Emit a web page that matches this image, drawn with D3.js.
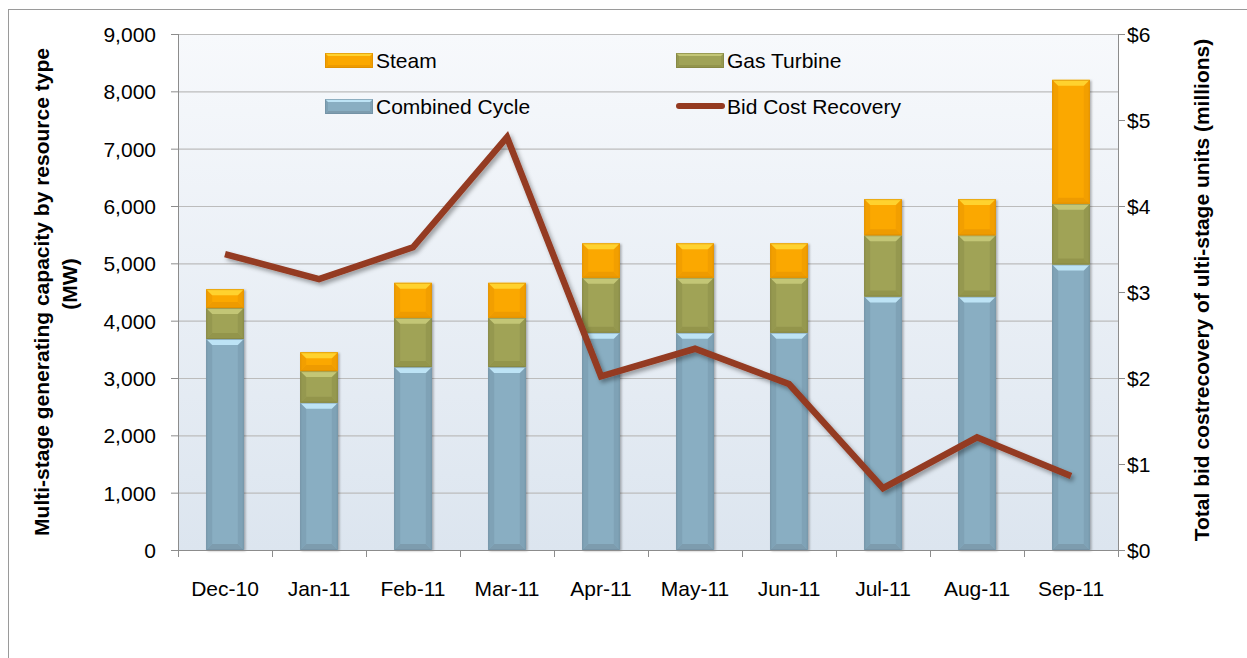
<!DOCTYPE html>
<html><head><meta charset="utf-8">
<script src="https://cdn.jsdelivr.net/npm/d3@7/dist/d3.min.js"></script>
<style>
body{margin:0;background:#fff;}
text{font-family:"Liberation Sans",Arial,sans-serif;fill:#000;}
</style></head>
<body><svg id="c" width="1247" height="658"></svg>
<script>
const categories = ["Dec-10","Jan-11","Feb-11","Mar-11","Apr-11","May-11","Jun-11","Jul-11","Aug-11","Sep-11"];
const combinedCycle = [3680,2570,3190,3190,3790,3790,3790,4420,4420,4980];
const gasTurbine    = [540,550,860,860,960,960,960,1070,1070,1060];
const steam         = [330,330,610,610,600,600,600,630,630,2160];
const bidCostRecovery = [3.44,3.15,3.52,4.80,2.02,2.34,1.93,0.72,1.31,0.86];
const leftTicks = [0,1000,2000,3000,4000,5000,6000,7000,8000,9000];
const rightTicks = [0,1,2,3,4,5,6];

const svg = d3.select("#c");
const L=178, R=1118, T=34, B=550;
const FS = 21;

const defs = svg.append("defs");
const bg = defs.append("linearGradient").attr("id","bg").attr("x1",0).attr("y1",0).attr("x2",0).attr("y2",1);
bg.append("stop").attr("offset","0%").attr("stop-color","#f7f9fc");
bg.append("stop").attr("offset","100%").attr("stop-color","#dce5ef");
const f1 = defs.append("filter").attr("id","sh").attr("x","-10%").attr("y","-10%").attr("width","130%").attr("height","130%");
f1.append("feDropShadow").attr("dx",2.5).attr("dy",3).attr("stdDeviation",2).attr("flood-color","#000").attr("flood-opacity",0.35);
const f2 = defs.append("filter").attr("id","bsh").attr("x","-20%").attr("y","-5%").attr("width","140%").attr("height","115%");
f2.append("feDropShadow").attr("dx",1.5).attr("dy",1).attr("stdDeviation",1.2).attr("flood-color","#000").attr("flood-opacity",0.3);

// frame
svg.append("rect").attr("x",8.5).attr("y",9.5).attr("width",1250).attr("height",700)
  .attr("fill","#fff").attr("stroke","#9a9a9a").attr("stroke-width",1);

const x = d3.scaleBand().domain(categories).range([L,R]).paddingInner(0.6).paddingOuter(0.3);
const xb = d3.scaleBand().domain(categories).range([L,R]);
const y = d3.scaleLinear().domain([0,9000]).range([B,T]);
const y2 = d3.scaleLinear().domain([0,6]).range([B,T]);

svg.append("rect").attr("x",L).attr("y",T).attr("width",R-L).attr("height",B-T).attr("fill","url(#bg)");

// gridlines
svg.append("g").selectAll("line").data(leftTicks.slice(1)).join("line")
  .attr("x1",L).attr("x2",R).attr("y1",d=>y(d)+0.5).attr("y2",d=>y(d)+0.5)
  .attr("stroke","#bcbcbc").attr("stroke-width",1.2);

const series = [
  {name:"Combined Cycle", vals:combinedCycle, base:"#89aec2", top:"#bde3f5", side:"#7fa2b6", bot:"#7d9cae", edge:"#6e8c9e"},
  {name:"Gas Turbine", vals:gasTurbine, base:"#a0a357", top:"#c3c676", side:"#959850", bot:"#93954c", edge:"#7f8140"},
  {name:"Steam", vals:steam, base:"#fba800", top:"#ffd22e", side:"#f29f00", bot:"#ee9b00", edge:"#d98a00"}
];

function bevel(g, x0, y0, w, h, s, bv){
  const b = Math.min(bv, h/2, w/2);
  g.append("rect").attr("x",x0).attr("y",y0).attr("width",w).attr("height",h).attr("fill",s.base);
  const pts = (a)=>a.map(p=>p.join(",")).join(" ");
  g.append("polygon").attr("points",pts([[x0,y0+h],[x0+b,y0+h-b],[x0+w-b,y0+h-b],[x0+w,y0+h]])).attr("fill",s.bot);
  g.append("polygon").attr("points",pts([[x0,y0],[x0+b,y0+b],[x0+b,y0+h-b],[x0,y0+h]])).attr("fill",s.side);
  g.append("polygon").attr("points",pts([[x0+w,y0],[x0+w-b,y0+b],[x0+w-b,y0+h-b],[x0+w,y0+h]])).attr("fill",s.side);
  g.append("polygon").attr("points",pts([[x0,y0],[x0+w,y0],[x0+w-b,y0+b],[x0+b,y0+b]])).attr("fill",s.top);
  g.append("rect").attr("x",x0+0.5).attr("y",y0+0.5).attr("width",Math.max(0,w-1)).attr("height",Math.max(0,h-1))
    .attr("fill","none").attr("stroke",s.edge).attr("stroke-width",1).attr("stroke-opacity",0.6);
}

const bars = svg.append("g").attr("filter","url(#bsh)");
categories.forEach((c,i)=>{
  let acc = 0;
  series.forEach(s=>{
    const v = s.vals[i];
    const y0 = y(acc+v), y1 = y(acc);
    const g = bars.append("g");
    bevel(g, x(c), y0, x.bandwidth(), y1-y0, s, 6);
    acc += v;
  });
});

// axes lines
const axc = "#8c8c8c";
svg.append("line").attr("x1",L+0.5).attr("x2",L+0.5).attr("y1",T).attr("y2",B).attr("stroke",axc);
svg.append("line").attr("x1",R+0.5).attr("x2",R+0.5).attr("y1",T).attr("y2",B).attr("stroke",axc);
svg.append("line").attr("x1",L).attr("x2",R).attr("y1",B+0.5).attr("y2",B+0.5).attr("stroke",axc);
// left ticks
svg.append("g").selectAll("line").data(leftTicks).join("line")
  .attr("x1",L-7).attr("x2",L).attr("y1",d=>y(d)+0.5).attr("y2",d=>y(d)+0.5).attr("stroke",axc);
svg.append("g").selectAll("text").data(leftTicks).join("text")
  .attr("x",L-22).attr("y",d=>y(d)+8).attr("text-anchor","end").attr("font-size",FS)
  .text(d=>d3.format(",")(d));
// right ticks
svg.append("g").selectAll("line").data(rightTicks).join("line")
  .attr("x1",R).attr("x2",R+7).attr("y1",d=>y2(d)+0.5).attr("y2",d=>y2(d)+0.5).attr("stroke",axc);
svg.append("g").selectAll("text").data(rightTicks).join("text")
  .attr("x",R+9).attr("y",d=>y2(d)+8).attr("text-anchor","start").attr("font-size",FS)
  .text(d=>"$"+d);
// x ticks
const bounds = categories.map(c=>xb(c)).concat([R]);
svg.append("g").selectAll("line").data(bounds).join("line")
  .attr("x1",d=>d+0.5).attr("x2",d=>d+0.5).attr("y1",B).attr("y2",B+7).attr("stroke",axc);
svg.append("g").selectAll("text").data(categories).join("text")
  .attr("x",d=>xb(d)+xb.bandwidth()/2).attr("y",596).attr("text-anchor","middle").attr("font-size",FS)
  .text(d=>d);

// line
const line = d3.line().x((d,i)=>x(categories[i])+x.bandwidth()/2).y(d=>y2(d));
svg.append("path").datum(bidCostRecovery).attr("d",line).attr("fill","none")
  .attr("stroke","#943a21").attr("stroke-width",6.5).attr("stroke-linejoin","miter").attr("filter","url(#sh)");

// axis titles
svg.append("text").attr("transform","translate(49,292) rotate(-90)").attr("text-anchor","middle")
  .attr("font-size",FS).attr("font-weight","bold").text("Multi-stage generating capacity by resource type");
svg.append("text").attr("transform","translate(77,284) rotate(-90)").attr("text-anchor","middle")
  .attr("font-size",FS).attr("font-weight","bold").text("(MW)");
svg.append("text").attr("transform","translate(1209,290) rotate(-90)").attr("text-anchor","middle")
  .attr("font-size",FS).attr("font-weight","bold").text("Total bid costrecovery of ulti-stage units (millions)");

// legend
const legendItems = [
  {name:"Steam", s:series[2], x:325, y:60},
  {name:"Gas Turbine", s:series[1], x:676, y:60},
  {name:"Combined Cycle", s:series[0], x:325, y:106},
  {name:"Bid Cost Recovery", s:null, x:676, y:106}
];
const lg = svg.append("g");
legendItems.forEach(it=>{
  if(it.s){
    bevel(lg.append("g"), it.x, it.y-7, 48, 15, it.s, 3);
  } else {
    lg.append("line").attr("x1",it.x+3).attr("x2",it.x+46).attr("y1",it.y).attr("y2",it.y)
      .attr("stroke","#943a21").attr("stroke-width",6).attr("stroke-linecap","round");
  }
  lg.append("text").attr("x",it.x+51).attr("y",it.y+7.5).attr("font-size",FS).text(it.name);
});
</script></body></html>
